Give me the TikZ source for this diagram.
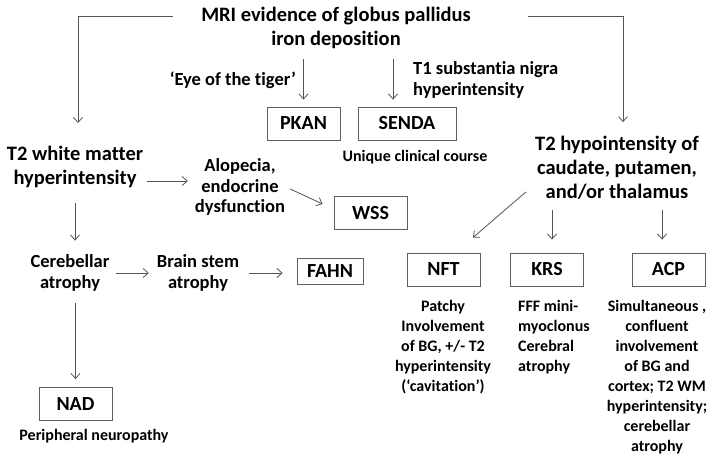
\documentclass[tikz,border=0pt]{standalone}
\usepackage{fontspec}
\setmainfont{Carlito}[Ligatures=NoCommon]
\usetikzlibrary{arrows.meta,calc}
\definecolor{linegray}{RGB}{85,85,85}
\definecolor{boxgray}{RGB}{95,95,95}
\begin{document}
\begin{tikzpicture}[x=1pt,y=-1pt,
  every node/.style={inner sep=0pt, text=black},
  big/.style={font=\fontsize{20.5}{24}\selectfont\bfseries, align=center},
  med/.style={font=\fontsize{18.5}{20.5}\selectfont\bfseries, align=center},
  small/.style={font=\fontsize{16}{20}\selectfont\bfseries, align=center},
  box/.style={draw=boxgray, line width=0.9pt, minimum width=73pt, minimum height=33pt, font=\fontsize{20}{22}\selectfont\bfseries},
  arr/.style={draw=linegray, line width=0.8pt, -{Straight Barb[length=5pt,width=9pt]}},
]
\useasboundingbox (0,0) rectangle (720,459);
\fill[white] (0,0) rectangle (720,459);

\node[big] (mri1) at (336,16) {MRI evidence of globus pallidus};
\node[big] (mri2) at (336,40) {iron deposition};
\node[med, anchor=east] (eye) at (296,80) {‘Eye of the tiger’};
\node[box] (pkan) at (303.5,123.5) {PKAN};
\node[med, anchor=west, align=left] (t1) at (413,80) {T1 substantia nigra\\hyperintensity};
\node[box, minimum width=98pt] (senda) at (407,123.5) {SENDA};
\node[small] (uniq) at (415,157) {Unique clinical course};
\node[big] (t2w) at (75,167) {T2 white matter\\hyperintensity};
\node[med] (alop) at (240,187) {Alopecia,\\endocrine\\dysfunction};
\node[box] (wss) at (370.5,213) {WSS};
\node[med] (cereb) at (70,273) {Cerebellar\\atrophy};
\node[med] (brain) at (198,273) {Brain stem\\atrophy};
\node[box, minimum width=66pt, minimum height=26pt] (fahn) at (330,271) {FAHN};
\node[box] (nad) at (75.5,404) {NAD};
\node[small] (periph) at (94,436) {Peripheral neuropathy};
\node[big] (t2h) at (617,168) {T2 hypointensity of\\caudate, putamen,\\and/or thalamus};
\node[box] (nft) at (443.5,269.5) {NFT};
\node[box] (krs) at (547,269.5) {KRS};
\node[box] (acp) at (668.5,269.5) {ACP};
\node[small, anchor=north] (nftd) at (443,300) {Patchy\\Involvement\\of BG, +/- T2\\hyperintensity\\(‘cavitation’)};
\node[small, anchor=north west, align=left] (krsd) at (518,300) {FFF mini-\\myoclonus\\Cerebral\\atrophy};
\node[small, anchor=north] (acpd) at (657,300) {Simultaneous ,\\confluent\\involvement\\of BG and\\cortex; T2 WM\\hyperintensity;\\cerebellar\\atrophy};

% connectors
\draw[arr] ($(mri1.west)+(-28,0)$) -| ($(t2w.north)+(3,-23)$);
\draw[arr] ($(mri1.east)+(57,0)$) -| ($(t2h.north)+(6,-14)$);
\draw[arr] ($(pkan.north)+(0,-48)$) -- ($(pkan.north)+(0,-7)$);
\draw[arr] ($(senda.north)+(-14,-48)$) -- ($(senda.north)+(-14,-7)$);
\draw[arr] ($(t2w.east)+(4,14)$) -- ($(alop.west)+(-7,-6)$);
\draw[arr] ($(alop.east)+(5,2)$) -- ($(wss.west)+(-11,-9)$);
\draw[arr, shorten <=15pt, shorten >=14pt] (t2w.south) -- (t2w.south |- cereb.north);
\draw[arr, shorten <=6pt, shorten >=8pt] (cereb.east) -- (brain.west);
\draw[arr, shorten <=10pt, shorten >=14pt] (brain.east) -- (brain.east -| fahn.west);
\draw[arr, shorten <=12pt, shorten >=8pt] (cereb.south -| nad.north) -- (nad.north);
\draw[arr] ($(t2h.south)+(-91,-8)$) -- ($(nft.north)+(29.5,-15)$);
\draw[arr, shorten <=10pt, shorten >=13pt] ([xshift=5pt]krs.north |- t2h.south) -- ([xshift=5pt]krs.north);
\draw[arr, shorten <=10pt, shorten >=13pt] ([xshift=-6.5pt]acp.north |- t2h.south) -- ([xshift=-6.5pt]acp.north);
\end{tikzpicture}
\end{document}
